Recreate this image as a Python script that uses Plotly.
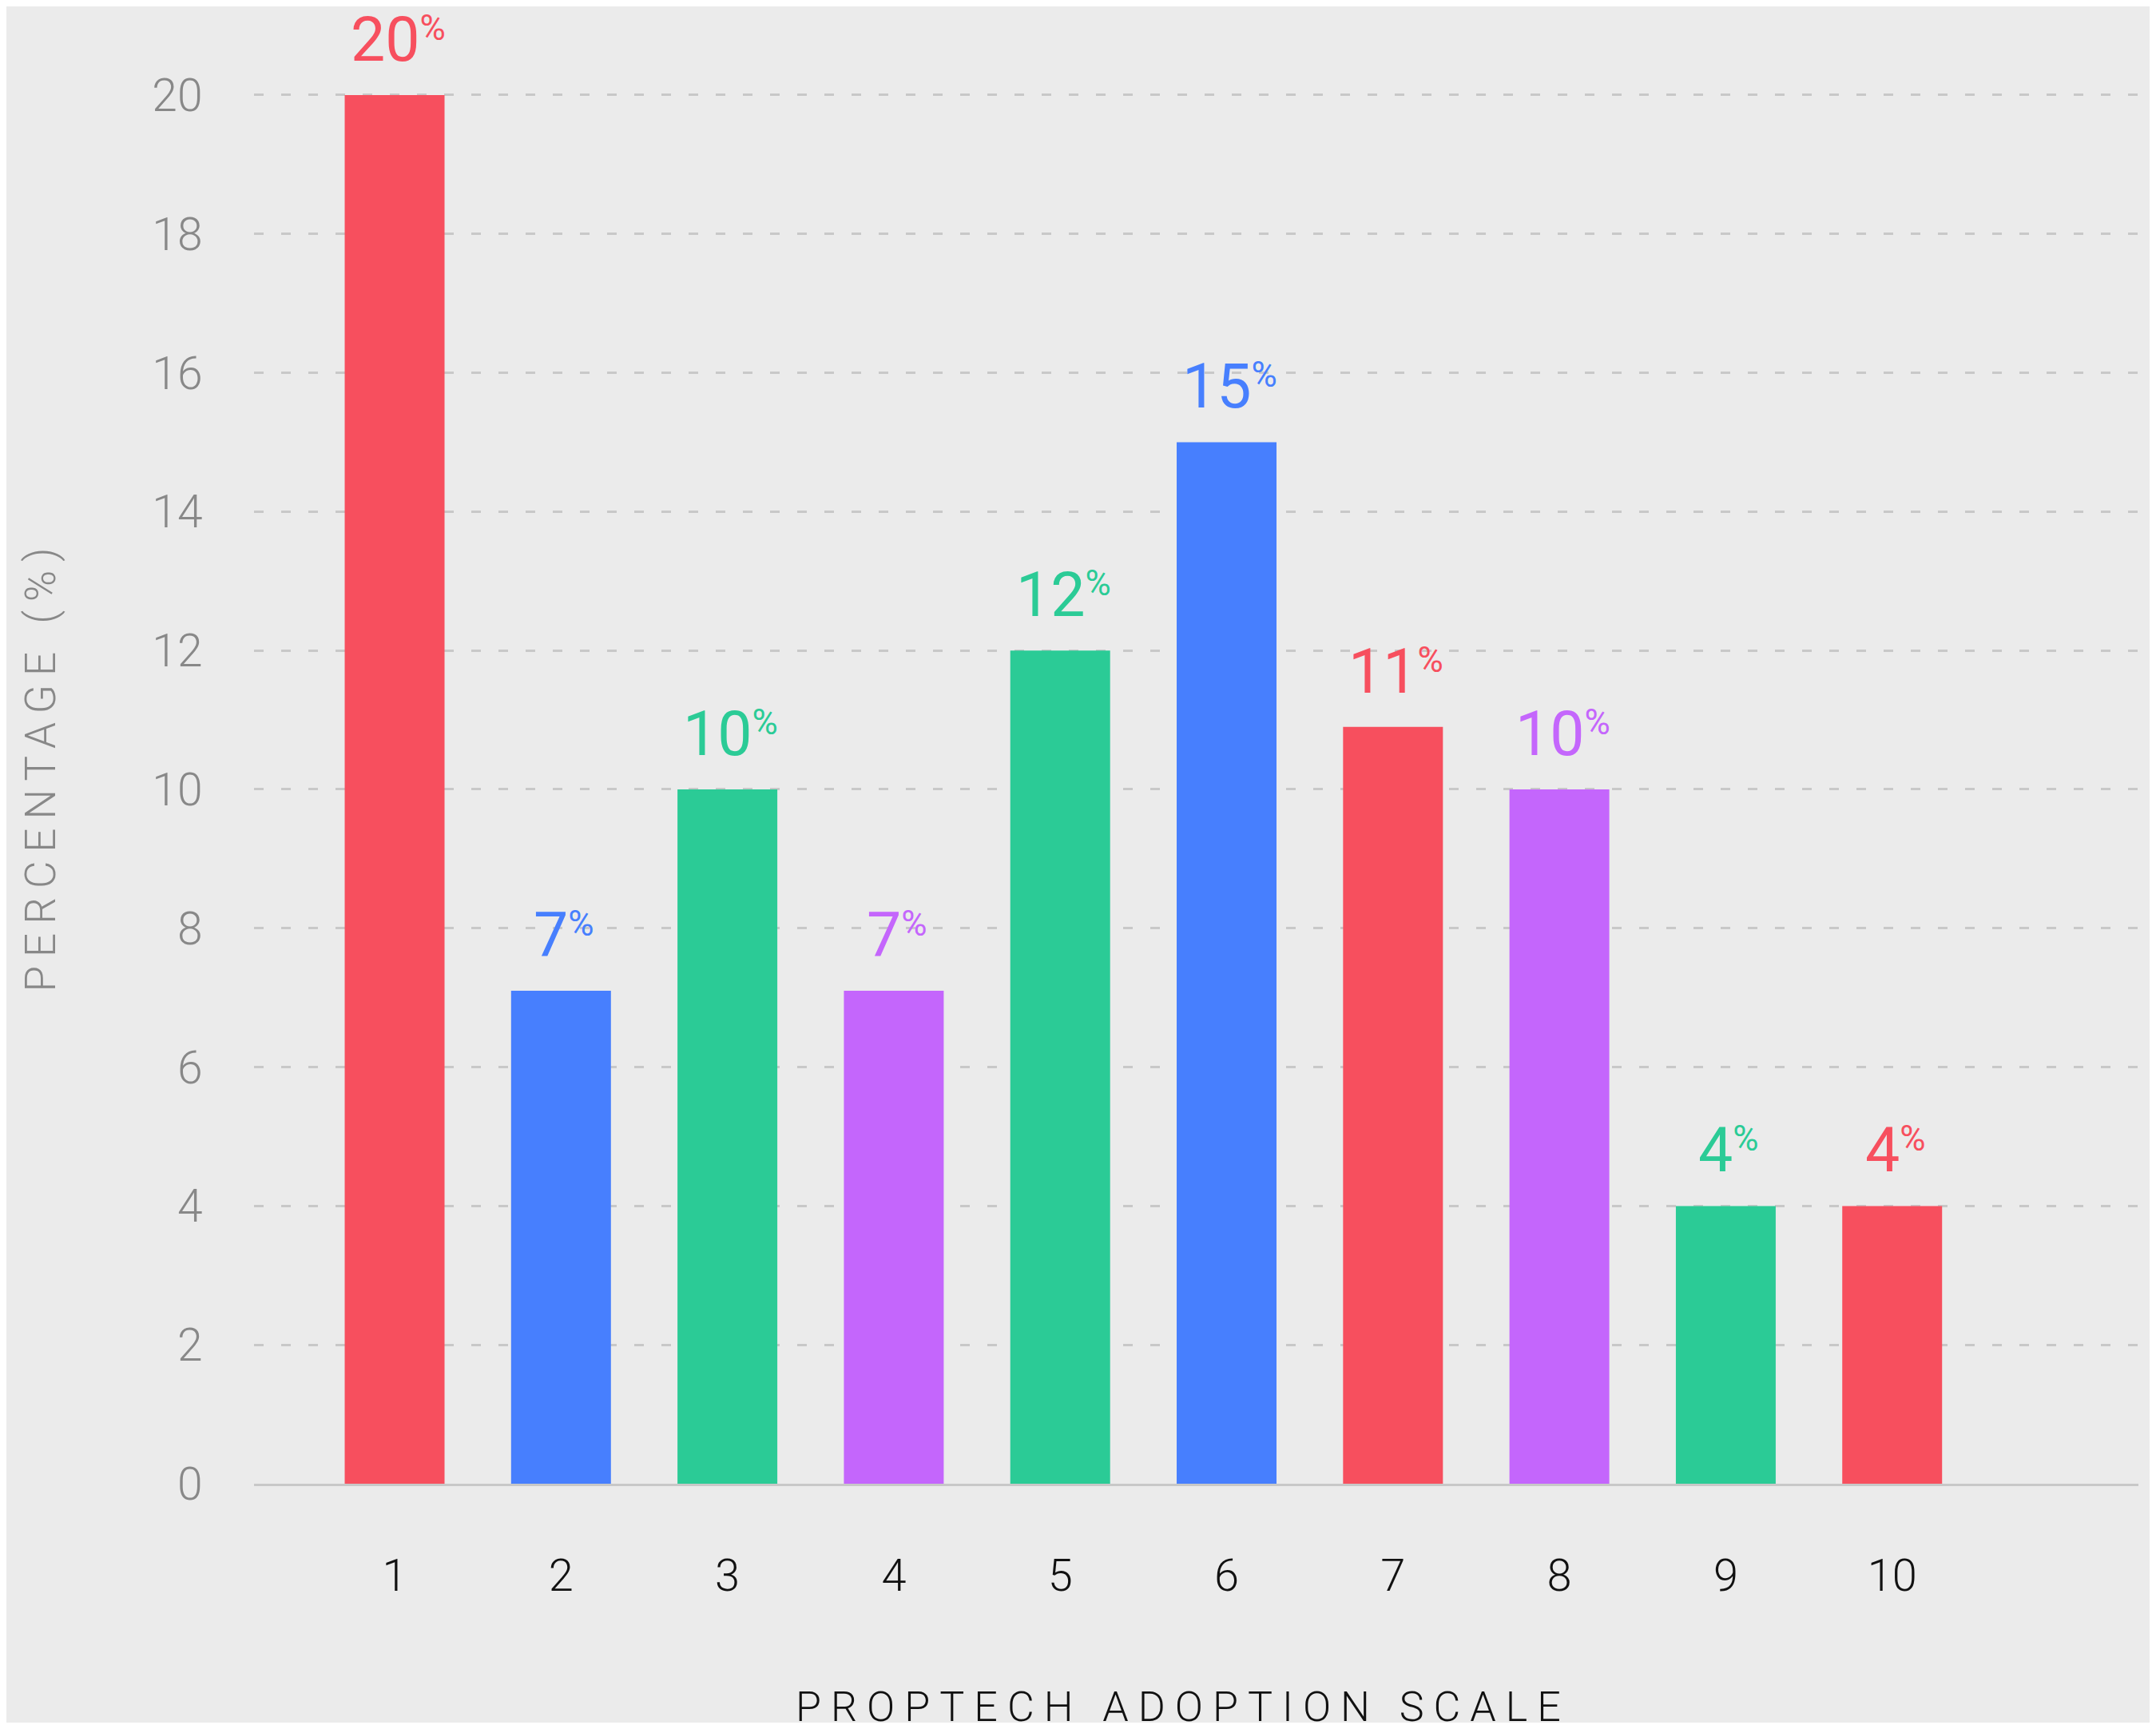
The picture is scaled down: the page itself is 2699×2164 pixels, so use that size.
import plotly.graph_objects as go

# ---- data ----
scale_points = [1, 2, 3, 4, 5, 6, 7, 8, 9, 10]
percentages = [20, 7.1, 10, 7.1, 12, 15, 10.9, 10, 4, 4]
label_values = [20, 7, 10, 7, 12, 15, 11, 10, 4, 4]
bar_colors = ["#f74f5e", "#477ffe", "#2bcb96", "#c466fc", "#2bcb96",
              "#477ffe", "#f74f5e", "#c466fc", "#2bcb96", "#f74f5e"]
y_ticks = [0, 2, 4, 6, 8, 10, 12, 14, 16, 18, 20]
x_title = "PROPTECH ADOPTION SCALE"
y_title = "PERCENTAGE (%)"

FONT = "Roboto"
BG = "#ebebeb"
GRID = "#c8c8c8"

fig = go.Figure()
fig.add_trace(go.Bar(
    x=scale_points, y=percentages, width=0.6,
    marker=dict(color=bar_colors, line=dict(width=0)),
    hoverinfo="skip", showlegend=False,
))

for xv, yv, lv, c in zip(scale_points, percentages, label_values, bar_colors):
    fig.add_annotation(
        x=xv, y=yv, xref="x", yref="y",
        text=f"{lv}<span style='font-size:63px'><sup>%</sup></span>",
        showarrow=False, yanchor="bottom", xanchor="center", yshift=22, xshift=4,
        font=dict(family=FONT, size=77, color=c),
    )

# x-axis title placed as a paper annotation so it can sit at the reference position
fig.add_annotation(
    x=0.5, y=0, xref="paper", yref="paper",
    text=f"<span style='letter-spacing:12px'>{x_title}</span>",
    showarrow=False, xanchor="center", yanchor="middle", yshift=-279, xshift=-17,
    font=dict(family=FONT, size=52, color="#111111", weight=300),
)

fig.update_layout(
    width=2683, height=2148,
    margin=dict(l=310, r=14, t=51, b=299),
    paper_bgcolor=BG, plot_bgcolor=BG,
    bargap=0.4,
    xaxis=dict(
        range=[0.155, 11.48], tickvals=scale_points,
        ticktext=[str(v) for v in scale_points],
        ticks="outside", ticklen=64, tickcolor="rgba(0,0,0,0)",
        tickfont=dict(family=FONT, size=56, color="#111111", weight=300),
        showgrid=False, zeroline=False,
        showline=True, linecolor=GRID, linewidth=3,
        automargin=False,
    ),
    yaxis=dict(
        range=[0, 20.69], tickvals=y_ticks,
        ticks="outside", ticklen=52, tickcolor="rgba(0,0,0,0)",
        tickfont=dict(family=FONT, size=57, color="#888888", weight=300),
        showgrid=True, gridcolor=GRID, gridwidth=3, griddash="12px,22px",
        zeroline=False, showline=False,
        title=dict(text=f"<span style='letter-spacing:11px'>{y_title}</span>", standoff=103,
                   font=dict(family=FONT, size=53, color="#888888", weight=300)),
        automargin=False,
    ),
)

fig.write_html("out.html")
